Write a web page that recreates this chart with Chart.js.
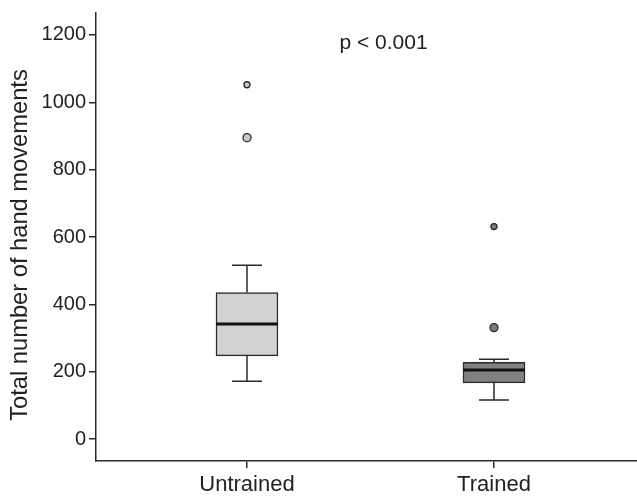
<!DOCTYPE html>
<html>
<head>
<meta charset="utf-8">
<script src="https://cdn.jsdelivr.net/npm/chart.js@4"></script>
<style>
  html, body { margin: 0; padding: 0; background: #fff; }
  #wrap { width: 637px; height: 498px; }
</style>
</head>
<body>
<div id="wrap"><canvas id="chart"></canvas></div>
<script>
// Box plot data
const groups = ["Untrained", "Trained"];
const groupX = [1, 2];
const q1 = [247, 167];
const median = [342, 205];
const q3 = [435, 228];
const whiskerLow = [172, 116];
const whiskerHigh = [516, 237];

// Outliers (x position, value, kind: "mild" = bigger circle, "extreme" = small circle)
const outlierX = [1, 1, 2, 2];
const outlierY = [895, 1052, 331, 631];
const outlierKind = ["mild", "extreme", "mild", "extreme"];

const yTicks = [0, 200, 400, 600, 800, 1000, 1200];
const yTitle = "Total number of hand movements";
const pText = "p < 0.001";

const boxFill = ["#d2d2d4", "#818184"];
const outlierFill = ["#c9c9cb", "#c9c9cb", "#7c7c7f", "#7c7c7f"];
const lineColor = "#2a2a2a";
const fontFamily = "'Liberation Sans', Arial, sans-serif";

// Draws whiskers (behind the boxes), medians (on top), the p-value label and the y title
const boxPlotExtras = {
  id: "boxPlotExtras",
  beforeDatasetsDraw(chart) {
    const { ctx, scales: { x, y } } = chart;
    ctx.save();
    ctx.strokeStyle = lineColor;
    ctx.lineWidth = 1.5;
    groupX.forEach((gx, i) => {
      const px = x.getPixelForValue(gx);
      const capHalf = 15;
      ctx.beginPath();
      // upper whisker
      ctx.moveTo(px, y.getPixelForValue(q3[i]));
      ctx.lineTo(px, y.getPixelForValue(whiskerHigh[i]));
      ctx.moveTo(px - capHalf, y.getPixelForValue(whiskerHigh[i]));
      ctx.lineTo(px + capHalf, y.getPixelForValue(whiskerHigh[i]));
      // lower whisker
      ctx.moveTo(px, y.getPixelForValue(q1[i]));
      ctx.lineTo(px, y.getPixelForValue(whiskerLow[i]));
      ctx.moveTo(px - capHalf, y.getPixelForValue(whiskerLow[i]));
      ctx.lineTo(px + capHalf, y.getPixelForValue(whiskerLow[i]));
      ctx.stroke();
    });
    ctx.restore();
  },
  afterDatasetsDraw(chart) {
    const { ctx, scales: { x, y } } = chart;
    ctx.save();
    ctx.strokeStyle = "#111";
    ctx.lineWidth = 3;
    groupX.forEach((gx, i) => {
      const px = x.getPixelForValue(gx);
      const py = y.getPixelForValue(median[i]);
      ctx.beginPath();
      ctx.moveTo(px - 31, py);
      ctx.lineTo(px + 31, py);
      ctx.stroke();
    });
    ctx.fillStyle = "#222";
    ctx.font = "21px " + fontFamily;
    ctx.textAlign = "center";
    ctx.textBaseline = "middle";
    ctx.fillText(pText, x.getPixelForValue(1.553), y.getPixelForValue(1176));

    // rotated y-axis title
    ctx.font = "23.7px " + fontFamily;
    ctx.translate(20, 245);
    ctx.rotate(-Math.PI / 2);
    ctx.fillText(yTitle, 0, 0);
    ctx.restore();
  }
};

new Chart(document.getElementById("chart"), {
  data: {
    datasets: [
      {
        type: "bar",
        data: groupX.map((gx, i) => ({ x: gx, y: [q1[i], q3[i]] })),
        backgroundColor: boxFill,
        borderColor: lineColor,
        borderWidth: 1.5,
        borderSkipped: false,
        barThickness: 62,
        order: 2
      },
      {
        type: "scatter",
        data: outlierX.map((ox, i) => ({ x: ox, y: outlierY[i] })),
        backgroundColor: outlierFill,
        borderColor: lineColor,
        borderWidth: 1.3,
        pointRadius: outlierKind.map(k => (k === "mild" ? 4 : 3)),
        order: 1
      }
    ]
  },
  options: {
    responsive: true,
    maintainAspectRatio: false,
    animation: false,
    layout: { autoPadding: false, padding: { top: 13, right: 0, left: 0, bottom: 0 } },
    plugins: {
      legend: { display: false },
      tooltip: { enabled: false }
    },
    scales: {
      x: {
        type: "linear",
        min: 0.3887,
        max: 2.579,
        offset: false,
        afterBuildTicks: scale => {
          scale.ticks = groupX.map(v => ({ value: v }));
        },
        afterFit: scale => {
          scale.height = 37;
          scale.paddingLeft = 0;
          scale.paddingRight = 0;
        },
        ticks: {
          color: "#222",
          font: { family: fontFamily, size: 22 },
          padding: 4,
          maxRotation: 0,
          callback: value => groups[groupX.indexOf(value)] || ""
        },
        grid: { offset: false, drawOnChartArea: false, tickLength: 7, color: lineColor, lineWidth: 1.5 },
        border: { display: true, color: lineColor, width: 1.5 }
      },
      y: {
        type: "linear",
        min: -65,
        max: 1265,
        afterBuildTicks: scale => {
          scale.ticks = yTicks.map(v => ({ value: v }));
        },
        afterFit: scale => {
          scale.width = 96;
          scale.paddingTop = 0;
          scale.paddingBottom = 0;
        },
        ticks: {
          color: "#222",
          font: { family: fontFamily, size: 20 },
          padding: 3,
          callback: value => String(value)
        },
        grid: { drawOnChartArea: false, tickLength: 7, color: lineColor, lineWidth: 1.5 },
        border: { display: true, color: lineColor, width: 1.5 }
      }
    }
  },
  plugins: [boxPlotExtras]
});
</script>
</body>
</html>
